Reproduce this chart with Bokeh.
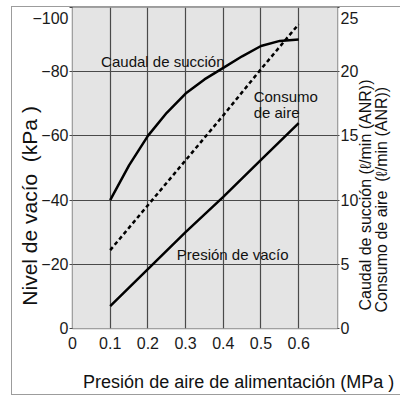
import math
from bokeh.plotting import figure
from bokeh.models import (Range1d, LinearAxis, FixedTicker, Label)
from bokeh.embed import file_html
from bokeh.resources import INLINE

# ---- data ----
pressure = [0.1, 0.2, 0.3, 0.4, 0.5, 0.6]
vacuum_level = [-7, -18.5, -30, -41, -52.5, -64]          # kPa (left axis)

suction_x = [0.1, 0.15, 0.2, 0.25, 0.3, 0.35, 0.4, 0.45, 0.5, 0.55, 0.6]
suction_flow = [10, 12.7, 15, 16.8, 18.3, 19.4, 20.3, 21.2, 22.0, 22.4, 22.5]  # l/min (right)

air_consumption = [6.1, 9.6, 13.1, 16.6, 20.2, 23.7]      # l/min (right)

x_ticks = [0, 0.1, 0.2, 0.3, 0.4, 0.5, 0.6]
x_tick_labels = ["0", "0.1", "0.2", "0.3", "0.4", "0.5", "0.6"]
left_ticks = [0, -20, -40, -60, -80, -100]
left_tick_labels = ["0", "\u221220", "\u221240", "\u221260", "\u221280", "\u2212100"]
right_ticks = [0, 5, 10, 15, 20, 25]
right_tick_labels = ["0", "5", "10", "15", "20", "25"]

x_title = "Presión de aire de alimentación  (MPa )"
left_title = "Nivel de vacío  (kPa )"
right_title_1 = "Caudal de succión (ℓ/min (ANR))"
right_title_2 = "Consumo de aire  (ℓ/min (ANR))"

FONT = "Liberation Sans"
NB = "\u00a0"

# canvas placed at (12, 7) inside a bordered box
CX, CY = 12, 7
W, H = 401 - CX, 389
FL, FR, FT, FB = 72.5 - CX, 338 - CX, 0, 328 - CY
x_end = 0.703

p = figure(width=W, height=H, output_backend="svg", toolbar_location=None,
           x_range=Range1d(0, x_end), y_range=Range1d(0, -100),
           min_border_left=int(round(FL)), min_border_right=int(W - FR),
           min_border_top=FT, min_border_bottom=int(H - FB))
p.styles = {"margin-left": "11px", "margin-top": "6px",
            "border-left": "1px solid #9c9c9c",
            "border-top": "1px solid #9c9c9c",
            "border-bottom": "1px solid #9c9c9c"}
p.extra_y_ranges = {"r": Range1d(0, 25)}

p.background_fill_color = "#e4e4e4"
p.border_fill_color = None
p.outline_line_color = "#8a8a8a"
p.outline_line_width = 1.5

# pixel (page) -> data helpers
XS = (FR - FL) / x_end
def dx(px):
    return (px - CX - FL) / XS
YS = (FB - FT) / 100.0
def dy(py):
    return -(FB - (py - CY)) / YS
def dyr(py):
    return -dy(py) / 4.0

# plot-area fill
bg = p.quad(left=[0], right=[x_end], bottom=[0], top=[-100],
            fill_color="#e4e4e4", line_color=None)
bg.level = "image"

# grid
p.xgrid.ticker = FixedTicker(ticks=x_ticks[1:])
p.ygrid.ticker = FixedTicker(ticks=left_ticks[1:-1])
for g in (p.xgrid[0], p.ygrid[0]):
    g.grid_line_color = "#4a4a4a"
    g.grid_line_width = 1.2

def style_axis(ax):
    ax.major_tick_in = 0
    ax.minor_tick_out = 0
    ax.minor_tick_in = 0
    ax.major_tick_line_color = "#4a4a4a"
    ax.axis_line_color = None
    ax.major_label_text_font = FONT
    ax.major_label_text_font_size = "16px"
    ax.major_label_text_color = "#1a1a1a"
    ax.axis_label_text_font = FONT
    ax.axis_label_text_font_style = "normal"
    ax.axis_label_text_color = "#111111"

# bottom axis
xa = p.xaxis[0]
style_axis(xa)
xa.ticker = FixedTicker(ticks=x_ticks)
xa.major_label_overrides = {t: l for t, l in zip(x_ticks, x_tick_labels)}
xa.major_tick_out = 0
xa.major_label_standoff = 8

# bottom title (as a single tick label of a second, line-less axis)
xt_pos = dx(244)
xt = LinearAxis(ticker=FixedTicker(ticks=[xt_pos]),
                major_label_overrides={xt_pos: x_title})
style_axis(xt)
xt.major_tick_out = 0
xt.major_label_text_font_size = "18px"
xt.major_label_text_color = "#111111"
xt.major_label_standoff = 20
p.add_layout(xt, "below")

# left axis
ya = p.yaxis[0]
style_axis(ya)
ya.ticker = FixedTicker(ticks=left_ticks)
lo = {t: l for t, l in zip(left_ticks, left_tick_labels)}
lo[left_ticks[-1]] = "\n" + left_tick_labels[-1]
ya.major_label_overrides = lo
ya.major_label_text_line_height = 0.15
ya.major_tick_out = 3
ya.major_label_standoff = 1
ya.axis_label = left_title.replace("  ", NB + " ") + NB * 13
ya.axis_label_text_font_size = "21px"
ya.axis_label_standoff = -12

# right axis
ra = LinearAxis(y_range_name="r")
style_axis(ra)
ra.ticker = FixedTicker(ticks=right_ticks)
ro = {t: l for t, l in zip(right_ticks, right_tick_labels)}
ro[right_ticks[-1]] = "\n" + right_tick_labels[-1]
ra.major_label_overrides = ro
ra.major_label_text_line_height = 0.15
ra.major_tick_out = 2
ra.major_label_standoff = 1
p.add_layout(ra, "right")

# right titles: rotated tick labels of two line-less axes, anchored at their start
def right_title(text, start_py, standoff):
    pos = dyr(start_py)
    ax = LinearAxis(y_range_name="r", ticker=FixedTicker(ticks=[pos]),
                    major_label_overrides={pos: text})
    style_axis(ax)
    ax.major_tick_out = 0
    ax.major_label_orientation = math.pi / 2
    ax.major_label_text_font_size = "16px"
    ax.major_label_text_color = "#111111"
    ax.major_label_standoff = standoff
    p.add_layout(ax, "right")

right_title(right_title_1, 310, 4)
right_title(right_title_2.replace("  ", NB + " "), 312, -4)

# curves
p.line(suction_x, suction_flow, y_range_name="r", line_color="black", line_width=2.5)
p.line(pressure, air_consumption, y_range_name="r", line_color="black",
       line_width=2.5, line_dash="4 3")
p.line(pressure, vacuum_level, line_color="black", line_width=2.5)

def lab(text, px, py, size, align="center"):
    p.add_layout(Label(x=dx(px), y=dy(py), text=text, text_font=FONT,
                       text_font_size=size, text_align=align,
                       text_baseline="middle", text_color="#111111"))

lab("Caudal de succión", 163, 61, "15px")
lab("Consumo", 254, 96, "15px", align="left")
lab("de aire", 254, 112, "15px", align="left")
lab("Presión de vacío", 177, 254, "15px", align="left")

open("out.html", "w").write(file_html(p, INLINE))
